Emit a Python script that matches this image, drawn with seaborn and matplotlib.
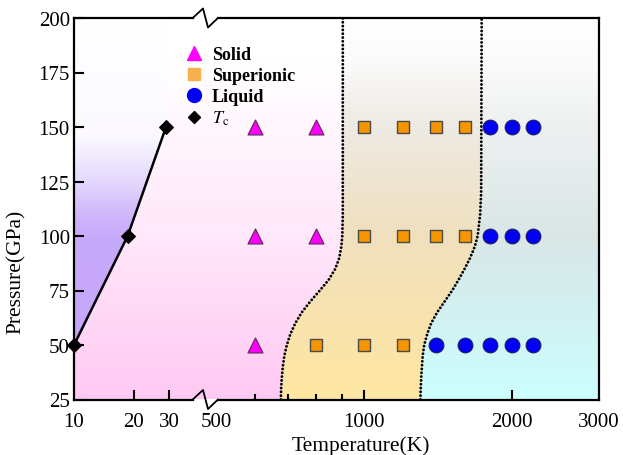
import numpy as np
import pandas as pd
import matplotlib
matplotlib.use("Agg")
import matplotlib.pyplot as plt
import seaborn as sns
from matplotlib.colors import to_rgb
from matplotlib.patches import Polygon
from matplotlib.lines import Line2D
from matplotlib.font_manager import FontProperties

# ---------------- data ----------------
tc_T = [10, 18.6, 29]
tc_P = [50, 100, 150]

solid_T = [600, 600, 600, 800, 800]
solid_P = [50, 100, 150, 100, 150]

super_T = [1000, 1200, 1400, 1600, 1000, 1200, 1400, 1600, 800, 1000, 1200]
super_P = [150, 150, 150, 150, 100, 100, 100, 100, 50, 50, 50]

liquid_T = [1800, 2000, 2200, 1800, 2000, 2200, 1400, 1600, 1800, 2000, 2200]
liquid_P = [150, 150, 150, 100, 100, 100, 50, 50, 50, 50, 50]

# phase boundaries
left_P = [25, 30, 35, 40, 45, 50, 55, 60, 65, 70, 75, 80, 85, 90, 95, 100, 110, 200]
left_T = [677.5, 678.4, 680.6, 683.8, 688.6, 696.7, 708.2, 725.0, 747.3, 777.6,
          812.9, 847.8, 874.0, 890.4, 898.8, 903.0, 905.2, 905.2]
right_P = [25, 30, 35, 40, 45, 50, 55, 60, 65, 70, 75, 80, 85, 90, 95, 100, 110, 120, 200]
right_T = [1301.3, 1303.1, 1306.2, 1310.5, 1315.4, 1324.6, 1343.3, 1368.7, 1407.6,
           1457.8, 1509.8, 1556.4, 1600.7, 1642.4, 1677.3, 1700.9, 1720.9, 1729.0, 1733.0]

x_ticks = [10, 20, 30, 500, 1000, 2000, 3000]
x_minor = [600, 700, 800, 900]
y_ticks = [25, 50, 75, 100, 125, 150, 175, 200]

# ---------------- style ----------------
sns.set_style("ticks")
plt.rcParams["font.family"] = ["Liberation Serif", "DejaVu Serif"]
plt.rcParams["mathtext.fontset"] = "stix"
plt.rcParams["text.color"] = "black"
plt.rcParams["axes.labelcolor"] = "black"
plt.rcParams["xtick.color"] = "black"
plt.rcParams["ytick.color"] = "black"

fig = plt.figure(figsize=(6.23, 4.56), dpi=100)
ax = fig.add_axes([74 / 623, 1 - 400.5 / 456, 525 / 623, 381.5 / 456])

# broken axis via a piecewise scale
A, B, C, XB = 86.5, 214.0, 142.0, 40.0
uL = A * np.log(XB / 10)


def fwd(x):
    x = np.clip(np.asarray(x, float), 1e-3, 1e9)
    left = A * np.log(x / 10)
    right = C + B * np.log(x / 500)
    mid = uL + (C - uL) * (x - XB) / (500 - XB)
    return np.where(x <= XB, left, np.where(x >= 500, right, mid))


def inv(u):
    u = np.clip(np.asarray(u, float), -2000, 2000)
    left = 10 * np.exp(u / A)
    right = 500 * np.exp((u - C) / B)
    mid = XB + (u - uL) * (500 - XB) / (C - uL)
    return np.where(u <= uL, left, np.where(u >= C, right, mid))


ax.set_xscale("function", functions=(fwd, inv))
ax.set_xlim(10, 3000)
ax.set_ylim(25, 200)

# ---------------- gradient backgrounds ----------------
ymin, ymax = 25, 200


def grad_img(stops):
    Ps = np.array([s[0] for s in stops], float)
    cols = np.array([to_rgb(s[1]) for s in stops])
    yy = np.linspace(ymin, ymax, 400)
    img = np.stack([np.interp(yy, Ps, cols[:, k]) for k in range(3)], axis=-1)
    return img[:, None, :]


def add_region(verts, stops):
    poly = Polygon(verts, closed=True, transform=ax.transData,
                   facecolor="none", edgecolor="none")
    ax.add_patch(poly)
    im = ax.imshow(grad_img(stops), extent=[0, 1, 0, 1], transform=ax.transAxes,
                   aspect="auto", origin="lower", interpolation="bilinear", zorder=0)
    im.set_clip_path(poly)


purple_stops = [(25, "#C6A4FB"), (100, "#C8AAFA"), (110, "#D0B8FB"),
                (125, "#E4D8FD"), (145, "#FBF9FF"), (200, "#FFFFFF")]
pink_stops = [(25, "#FFC9F3"), (75, "#FFDDF7"), (100, "#FFE8FA"),
              (150, "#FFF7FD"), (180, "#FFFFFF"), (200, "#FFFFFF")]
mid_stops = [(25, "#FFE7A3"), (50, "#FBE4AA"), (100, "#F0E0BE"),
             (150, "#EEEAE4"), (180, "#FBFBFB"), (200, "#FFFFFF")]
right_stops = [(25, "#CCFFFF"), (50, "#D0F6F6"), (100, "#DAE6E6"),
               (150, "#EEF0F0"), (180, "#FBFBFB"), (200, "#FFFFFF")]

purple_v = [(10, 50)] + list(zip(tc_T[1:], tc_P[1:])) + [(tc_T[-1], 200), (10, 200)]
pink_v = ([(10, 25)] + list(zip(tc_T, tc_P)) + [(tc_T[-1], 200)]
          + list(zip(left_T[::-1], left_P[::-1])))
mid_v = list(zip(left_T, left_P)) + list(zip(right_T[::-1], right_P[::-1]))
right_v = list(zip(right_T, right_P)) + [(3000, 200), (3000, 25)]

add_region(pink_v, pink_stops)
add_region(purple_v, purple_stops)
add_region(mid_v, mid_stops)
add_region(right_v, right_stops)

# ---------------- boundaries ----------------
for T, P in [(left_T, left_P), (right_T, right_P)]:
    ax.plot(T, P, color="black", lw=2.1, ls=(0, (0.01, 1.3)),
            dash_capstyle="round", zorder=2)

# ---------------- Tc line ----------------
df_tc = pd.DataFrame({"T": tc_T, "P": tc_P})
sns.lineplot(data=df_tc, x="T", y="P", ax=ax, color="black", lw=1.8,
             marker="D", markersize=7, markeredgecolor="black",
             estimator=None, sort=False, zorder=4, clip_on=False)

# ---------------- phase points ----------------
df_s = pd.DataFrame({"T": solid_T, "P": solid_P})
df_u = pd.DataFrame({"T": super_T, "P": super_P})
df_l = pd.DataFrame({"T": liquid_T, "P": liquid_P})
sns.scatterplot(data=df_s, x="T", y="P", ax=ax, marker="^", s=115,
                color="#FF00FF", edgecolor="#6A2A6A", linewidth=0.9, zorder=5)
sns.scatterplot(data=df_u, x="T", y="P", ax=ax, marker="s", s=82,
                color="#F59600", edgecolor="#4A4A4A", linewidth=1.0, zorder=5)
sns.scatterplot(data=df_l, x="T", y="P", ax=ax, marker="o", s=112,
                color="#0000F5", edgecolor="#1A1A60", linewidth=0.8, zorder=5)

# ---------------- axes / ticks ----------------
ax.set_xticks(x_ticks)
ax.set_xticklabels([str(v) for v in x_ticks])
ax.set_xticks(x_minor, minor=True)
ax.set_yticks(y_ticks)
ax.tick_params(axis="both", which="major", direction="in", length=7, width=1.5,
               labelsize=15, colors="black", labelcolor="black", pad=3)
ax.tick_params(axis="x", which="major", pad=9)
ax.tick_params(axis="x", which="minor", direction="in", length=4, width=1.5,
               colors="black")
ax.tick_params(top=False, right=False, which="both")
ax.xaxis.get_major_ticks()[3].tick1line.set_visible(False)
ax.xaxis.get_major_ticks()[0].tick1line.set_visible(False)
ax.xaxis.get_major_ticks()[-1].tick1line.set_visible(False)

for sp in ["left", "right"]:
    ax.spines[sp].set_linewidth(1.6)
    ax.spines[sp].set_color("black")
ax.spines["top"].set_visible(False)
ax.spines["bottom"].set_visible(False)

b0, b1 = (192.7 - 74) / 525, (218 - 74) / 525
z1, z2 = (203 - 74) / 525, (208 - 74) / 525
dy = 9.5 / 381.5
for y0 in (0, 1):
    ax.plot([0, b0], [y0, y0], transform=ax.transAxes, color="black", lw=1.6,
            clip_on=False, zorder=6, solid_capstyle="projecting")
    ax.plot([b1, 1], [y0, y0], transform=ax.transAxes, color="black", lw=1.6,
            clip_on=False, zorder=6, solid_capstyle="projecting")
    ax.plot([b0, z1, z2, b1], [y0, y0 + dy, y0 - dy, y0], transform=ax.transAxes,
            color="black", lw=1.3, clip_on=False, zorder=6)

ax.set_xlabel("Temperature(K)", fontsize=15.5, color="black")
ax.set_ylabel("Pressure(GPa)", fontsize=15.5, color="black")
ax.xaxis.set_label_coords((361 - 74) / 525, -(436 - 400.5) / 381.5)
ax.yaxis.set_label_coords((26 - 74) / 525, (400.5 - 272) / 381.5)

# ---------------- legend ----------------
handles = [
    Line2D([], [], marker="^", ls="", color="#FF00FF", ms=10),
    Line2D([], [], marker="s", ls="", color="#F9B050", ms=8.5),
    Line2D([], [], marker="o", ls="", color="#0000F5", ms=10),
    Line2D([], [], marker="D", ls="", color="black", ms=6.5),
]
labels = ["Solid", "Superionic", "Liquid", r"$\mathit{T}_{\mathrm{c}}$"]
leg = ax.legend(handles, labels, loc="upper left",
                bbox_to_anchor=((185 - 74) / 525, 1 - (47 - 19) / 381.5),
                frameon=False, borderpad=0, borderaxespad=0,
                handlelength=1.0, handletextpad=0.5, labelspacing=0.22,
                labelcolor="black",
                prop=FontProperties(family="Liberation Serif", weight="bold", size=13))

fig.savefig("out.png", dpi=100)
